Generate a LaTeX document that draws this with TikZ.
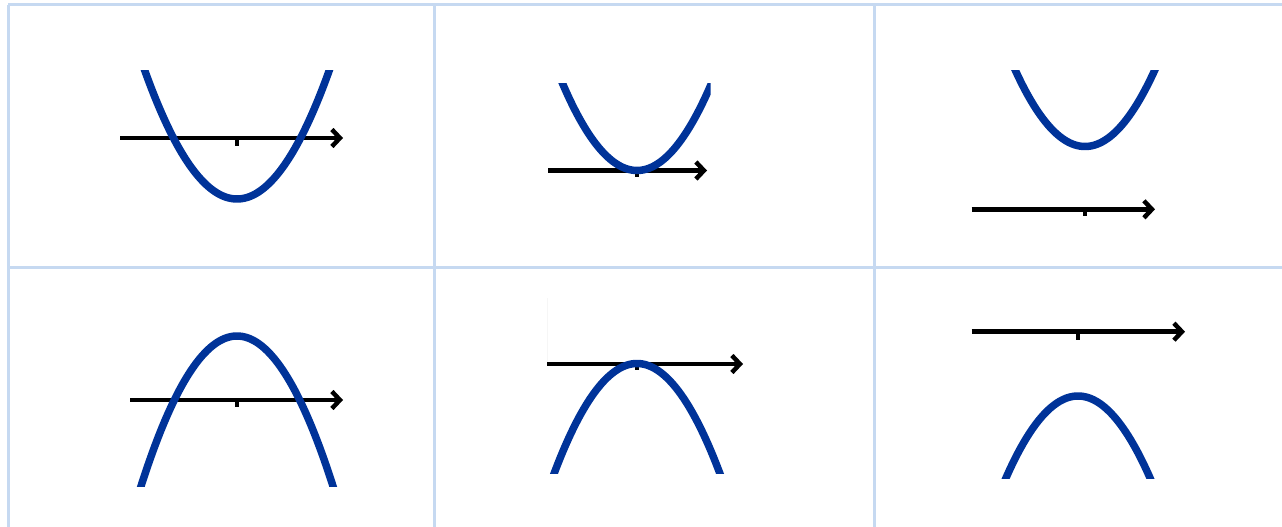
\documentclass[tikz,border=0pt]{standalone}
\usetikzlibrary{arrows.meta}
\definecolor{gridc}{RGB}{198,217,241}
\definecolor{curvec}{RGB}{0,51,153}
\begin{document}
\begin{tikzpicture}[x=1pt,y=-1pt,
  gridline/.style={draw=gridc,line width=3pt},
  axisline/.style={draw=black,line width=4.5pt,-{Straight Barb[length=8pt,width=17pt]}},
  tickmark/.style={draw=black,line width=4pt},
  curve/.style={draw=curvec,line width=7.5pt}]
\useasboundingbox (0,0) rectangle (1282,527);
% grid
\draw[gridline] (8,5) -- (1282,5);
\draw[gridline] (8,267) -- (1282,267);
\draw[gridline] (8,5) -- (8,527);
\draw[gridline] (434,5) -- (434,527);
\draw[gridline] (874,5) -- (874,527);
% panel 1
\draw[axisline] (120,138) -- (343,138);
\draw[tickmark] (236.7,138) -- (236.7,145.5);
\begin{scope}
\clip (100,71) rectangle (400,260);
\draw[curve] plot[domain=130:345,samples=80,smooth] (\x,{199-0.0151*(\x-237)^2});
\end{scope}
% panel 2
\draw[axisline] (548,170.5) -- (707,170.5);
\draw[tickmark] (637,170.5) -- (637,177);
\begin{scope}
\clip (500,83.3) rectangle (710.7,260);
\draw[curve] plot[domain=545:730,samples=80,smooth] (\x,{170.5-0.0157*(\x-637)^2});
\end{scope}
% panel 3
\draw[axisline] (971.7,209.3) -- (1155,209.3);
\draw[tickmark] (1085,209.3) -- (1085,215.5);
\begin{scope}
\clip (950,71) rectangle (1250,260);
\draw[curve] plot[domain=990:1180,samples=80,smooth] (\x,{146.5-0.0157*(\x-1085)^2});
\end{scope}
% panel 4
\draw[axisline] (130,400) -- (343,400);
\draw[tickmark] (236.7,400) -- (236.7,407);
\begin{scope}
\clip (100,280) rectangle (400,486);
\draw[curve] plot[domain=125:350,samples=80,smooth] (\x,{336+0.0163*(\x-237)^2});
\end{scope}
% panel 5
\draw[gray!7,line width=1pt] (547.5,298) -- (547.5,364);
\draw[axisline] (547.3,364) -- (743,364);
\draw[tickmark] (636.7,364) -- (636.7,370);
\begin{scope}
\clip (548.3,280) rectangle (800,473.3);
\draw[curve] plot[domain=540:735,samples=80,smooth] (\x,{363.5+0.016*(\x-637)^2});
\end{scope}
% panel 6
\draw[axisline] (971.7,331.7) -- (1185,331.7);
\draw[tickmark] (1078.3,331.7) -- (1078.3,339.5);
\begin{scope}
\clip (950,280) rectangle (1250,478.3);
\draw[curve] plot[domain=995:1165,samples=80,smooth] (\x,{396+0.0158*(\x-1078)^2});
\end{scope}
\end{tikzpicture}
\end{document}
